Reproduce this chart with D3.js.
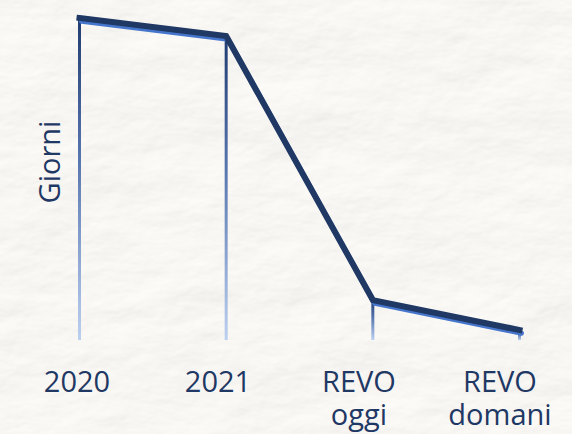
<!DOCTYPE html>
<html>
<head>
<meta charset="utf-8">
<script src="https://cdn.jsdelivr.net/npm/d3@7"></script>
<style>
  html, body { margin: 0; padding: 0; background: #f6f4f1; }
  svg { display: block; }
</style>
</head>
<body>
<svg id="chart" width="572" height="434"></svg>
<script>
// ---- data ----
const categories = ["2020", "2021", "REVO oggi", "REVO domani"];
const labelLines = [["2020"], ["2021"], ["REVO", "oggi"], ["REVO", "domani"]];
const giorni = [100, 94.4, 12.4, 3.1];
const yAxisTitle = "Giorni";

const W = 572, H = 434;
const svg = d3.select("#chart");

// ---- paper texture background ----
const defs = svg.append("defs");
const f = defs.append("filter").attr("id", "paper")
  .attr("x", 0).attr("y", 0).attr("width", "100%").attr("height", "100%")
  .attr("color-interpolation-filters", "sRGB");
f.append("feTurbulence").attr("type", "fractalNoise")
  .attr("baseFrequency", "0.009 0.016").attr("numOctaves", 5).attr("seed", 11).attr("result", "noise");
f.append("feDiffuseLighting").attr("in", "noise").attr("surfaceScale", 6)
  .attr("diffuseConstant", 1)
  .attr("lighting-color", "#ffffff").attr("result", "light")
  .append("feDistantLight").attr("azimuth", 60).attr("elevation", 50);
f.append("feColorMatrix").attr("in", "light").attr("type", "matrix")
  .attr("values", "0.12 0 0 0 0.88  0 0.12 0 0 0.874  0 0.12 0 0 0.862  0 0 0 0 1");

svg.append("rect").attr("width", W).attr("height", H).attr("fill", "#f6f4f1");
svg.append("rect").attr("width", W).attr("height", H).attr("filter", "url(#paper)");

// ---- scales ----
const x = d3.scalePoint().domain(categories).range([79.5, 519.5]);
const xLabel = d3.scalePoint().domain(categories).range([77, 500]);
const y = d3.scaleLinear().domain([0, 100]).range([340, 18]);

const data = categories.map((c, i) => ({ c, v: giorni[i] }));

// drop-line gradient
const grad = defs.append("linearGradient").attr("id", "dropGrad")
  .attr("x1", 0).attr("y1", 0).attr("x2", 0).attr("y2", 1);
grad.append("stop").attr("offset", "0%").attr("stop-color", "#203c72");
grad.append("stop").attr("offset", "45%").attr("stop-color", "#5a78b0");
grad.append("stop").attr("offset", "100%").attr("stop-color", "#bcd0f0");

// drop lines
svg.append("g").selectAll("rect").data(data).join("rect")
  .attr("x", d => x(d.c) - 1.5)
  .attr("y", d => y(d.v))
  .attr("width", 3)
  .attr("height", d => y(0) - y(d.v))
  .attr("fill", "url(#dropGrad)");

// line: blue reflection + dark main
const line = d3.line().x(d => x(d.c)).y(d => y(d.v));
svg.append("path").datum(data)
  .attr("d", line)
  .attr("transform", "translate(2,3.2)")
  .attr("fill", "none")
  .attr("stroke", "#4676cc")
  .attr("stroke-width", 5)
  .attr("stroke-linejoin", "miter")
  .attr("stroke-linecap", "round");
svg.append("path").datum(data)
  .attr("d", line)
  .attr("fill", "none")
  .attr("stroke", "#1f3864")
  .attr("stroke-width", 6)
  .attr("stroke-linejoin", "miter")
  .attr("stroke-linecap", "square");

// x labels
const font = "'Open Sans', 'Noto Sans', sans-serif";
const lbl = svg.append("g").attr("font-family", font).attr("font-size", 29).attr("fill", "#1f3864")
  .attr("text-anchor", "middle");
lbl.selectAll("text").data(categories).join("text")
  .attr("x", d => xLabel(d))
  .attr("y", 392)
  .each(function (d, i) {
    const t = d3.select(this);
    labelLines[i].forEach((s, k) => {
      t.append("tspan").attr("x", xLabel(d)).attr("dy", k === 0 ? 0 : 33).text(s);
    });
  });

// y title
svg.append("text")
  .attr("transform", "translate(60,162) rotate(-90)")
  .attr("text-anchor", "middle")
  .attr("font-family", font).attr("font-size", 29).attr("fill", "#1f3864")
  .text(yAxisTitle);
</script>
</body>
</html>
